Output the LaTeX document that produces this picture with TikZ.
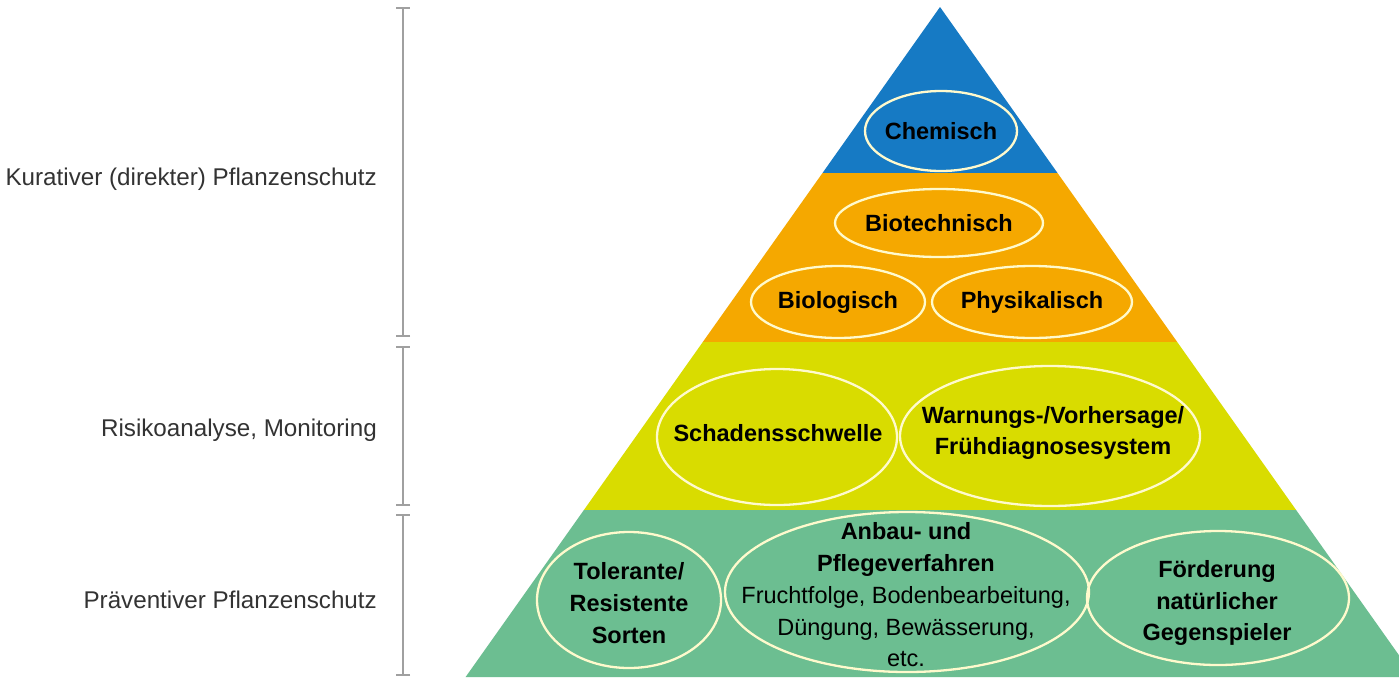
\documentclass[tikz,border=0pt]{standalone}
\usepackage{fontspec}
\setmainfont{Liberation Sans}
\usetikzlibrary{arrows.meta}
\definecolor{chemblue}{RGB}{22,122,196}
\definecolor{bioorange}{RGB}{245,168,0}
\definecolor{riskyellow}{RGB}{217,220,0}
\definecolor{prevgreen}{RGB}{108,190,145}
\definecolor{ringcol}{RGB}{255,250,205}
\definecolor{barcol}{RGB}{160,160,160}
\begin{document}
\begin{tikzpicture}[x=1pt,y=-1pt,
	ring/.style={draw=ringcol, line width=2.3pt},
	lvl/.style={font=\fontsize{23.5}{31.75}\selectfont\bfseries, text=black, align=center, inner sep=0pt},
	side/.style={font=\fontsize{24.2}{28}\selectfont, text=black!80, anchor=east, inner sep=0pt},
	bar/.style={draw=barcol, line width=2pt, {Bar[width=14pt]}-{Bar[width=14pt]}}]
	\useasboundingbox[fill=white] (0,0) rectangle (1399,678);
	% Pyramide
	\fill[chemblue] (940,7)--(1057.5,173)--(822.5,173)--cycle;
	\fill[bioorange] (822.5,173)--(1057.5,173)--(1177.2,342)--(702.8,342)--cycle;
	\fill[riskyellow] (702.8,342)--(1177.2,342)--(1296.1,510)--(583.9,510)--cycle;
	\fill[prevgreen] (583.9,510)--(1296.1,510)--(1414.4,677)--(465.6,677)--cycle;
	% Ellipsen
	\draw[ring] (941,131) ellipse (76 and 40);
	\draw[ring] (939,223) ellipse (104 and 34);
	\draw[ring] (838,302) ellipse (87 and 36);
	\draw[ring] (1032,302) ellipse (100 and 36);
	\draw[ring] (777,437) ellipse (120 and 68);
	\draw[ring] (1050,436) ellipse (150 and 70);
	\draw[ring] (629,600) ellipse (92 and 68);
	\draw[ring] (907,592) ellipse (182 and 80);
	\draw[ring] (1218,598) ellipse (131 and 67);
	% Texte
	\node[lvl] (chem) at (941,131) {Chemisch};
	\node[lvl] (biotech) at (939,223) {Biotechnisch};
	\node[lvl] (biolog) at (838,302) {Biologisch};
	\node[lvl] (physik) at (1032,302) {Physikalisch};
	\node[lvl] (schad) at (778,433) {Schadensschwelle};
	\node[lvl] (warn) at (1053,433) {Warnungs-/Vorhersage/\\Frühdiagnosesystem};
	\node[lvl] (toler) at (629,603) {Tolerante/\\Resistente\\Sorten};
	\node[lvl] (anbau) at (906,595) {Anbau- und\\Pflegeverfahren\\\mdseries Fruchtfolge, Bodenbearbeitung,\\\mdseries Düngung, Bewässerung,\\\mdseries etc.};
	\node[lvl] (foerd) at (1217,603) {Förderung\\natürlicher\\Gegenspieler};
	% Klammern links
	\node[side] (kurativ) at (377,179) {Kurativer (direkter) Pflanzenschutz};
	\node[side] (risiko) at (377,430) {Risikoanalyse, Monitoring};
	\node[side] (praev) at (377,600) {Präventiver Pflanzenschutz};
	\draw[bar] (403,7)--(403,337);
	\draw[bar] (403,346)--(403,506);
	\draw[bar] (403,514)--(403,676);
\end{tikzpicture}
\end{document}
